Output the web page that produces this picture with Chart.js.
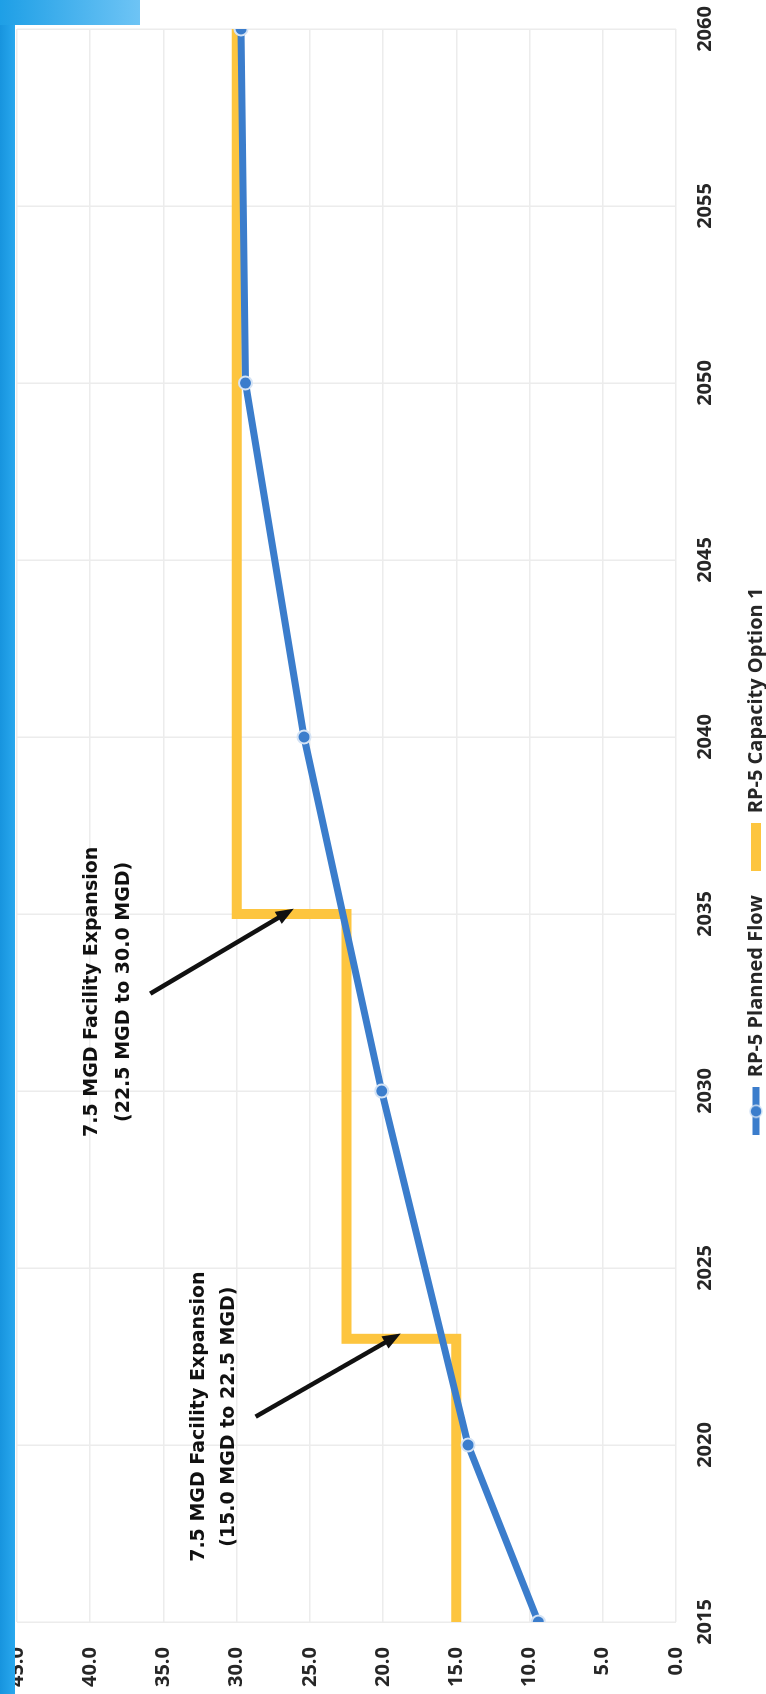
<!DOCTYPE html>
<html lang="en">
<head>
<meta charset="UTF-8" />
<meta name="viewport" content="width=device-width, initial-scale=1.0" />
<title>RP-5 Planned Flow and Capacity</title>
<script src="https://cdn.jsdelivr.net/npm/chart.js@4.4.1/dist/chart.umd.min.js"></script>
<style>
  html, body { margin: 0; padding: 0; width: 766px; height: 1694px; overflow: hidden; background: #fff; }
  /* the chart is drawn landscape and turned a quarter turn counter-clockwise */
  #turn { position: absolute; left: 0; top: 0; width: 1694px; height: 776px;
          transform-origin: 0 0; transform: translate(0px, 1694px) rotate(-90deg); }
  #turn canvas { display: block; }
  .strip { position: absolute; left: 0; top: 0; width: 15px; height: 1694px; z-index: 2;
           background: linear-gradient(to right, #1794de, #29a8ee); }
  .tab { position: absolute; left: 0; top: 0; width: 140px; height: 25px; z-index: 2;
         background: linear-gradient(to right, #1e9fe6, #6ec4f5); }
</style>
</head>
<body>
<div id="turn"><canvas id="chart1" width="1694" height="776"></canvas></div>
<div class="strip"></div>
<div class="tab"></div>
<script>
  const flowYears = [2015, 2020, 2030, 2040, 2050, 2060];
  const plannedFlow = [9.4, 14.2, 20.1, 25.4, 29.4, 29.7];

  const capacityYears = [2015, 2023, 2035, 2060];
  const capacityOption1 = [15.0, 22.5, 30.0, 30.0];

  const yearMin = 2015, yearMax = 2060, yearStep = 5;
  const mgdMin = 0, mgdMax = 45, mgdStep = 5;

  const seriesNames = ['RP-5 Planned Flow', 'RP-5 Capacity Option 1'];

  //callout text, placed in chart units (year, MGD)
  const calloutText = [
    ['7.5 MGD Facility Expansion', '(15.0 MGD to 22.5 MGD)'],
    ['7.5 MGD Facility Expansion', '(22.5 MGD to 30.0 MGD)']
  ];
  const calloutYear = [2020.8, 2032.8];
  const calloutMgd = [[32.6, 30.5], [39.9, 37.7]];
  const arrowTail = [[2020.8, 28.7], [2032.75, 35.9]];
  const arrowTip = [[2023.15, 18.8], [2035.15, 26.1]];

  const blue = '#3b7dcc';
  const yellow = '#fdc53f';
  const gridColor = '#ececec';

  Chart.defaults.font.family = "'Open Sans', sans-serif";
  Chart.defaults.font.weight = 'bold';
  Chart.defaults.font.size = 20;
  Chart.defaults.color = '#262626';

  //legend markers: a line, with a dot for the flow series
  function legendMark(color, dot){
    const c = document.createElement('canvas');
    c.width = 48; c.height = 14;
    const g = c.getContext('2d');
    g.fillStyle = color;
    g.fillRect(0, dot ? 3.5 : 2, 48, dot ? 7 : 10);
    if(dot){
      g.beginPath();
      g.arc(24, 7, 6, 0, Math.PI * 2);
      g.fill();
      g.strokeStyle = '#d4e3f5';
      g.lineWidth = 1.5;
      g.stroke();
    }
    return c;
  }
  const marks = [legendMark(blue, true), legendMark(yellow, false)];

  const callouts = {
    id: 'callouts',
    afterDatasetsDraw(chart){
      const { ctx, scales: { x, y } } = chart;
      ctx.save();
      ctx.font = "bold 19px 'DejaVu Sans'";
      ctx.fillStyle = '#111';
      ctx.strokeStyle = '#111';
      ctx.textAlign = 'center';
      ctx.textBaseline = 'middle';

      calloutText.forEach((lines, i) => {
        const cx = x.getPixelForValue(calloutYear[i]);
        lines.forEach((line, j) => {
          ctx.fillText(line, cx, y.getPixelForValue(calloutMgd[i][j]));
        });

        //arrow
        const x1 = x.getPixelForValue(arrowTail[i][0]);
        const y1 = y.getPixelForValue(arrowTail[i][1]);
        const x2 = x.getPixelForValue(arrowTip[i][0]);
        const y2 = y.getPixelForValue(arrowTip[i][1]);
        const ang = Math.atan2(y2 - y1, x2 - x1);
        const head = 18, half = 7;
        const cos = Math.cos(ang), sin = Math.sin(ang);
        ctx.lineWidth = 4.5;
        ctx.beginPath();
        ctx.moveTo(x1, y1);
        ctx.lineTo(x2 - head * 0.7 * cos, y2 - head * 0.7 * sin);
        ctx.stroke();
        ctx.beginPath();
        ctx.moveTo(x2, y2);
        ctx.lineTo(x2 - head * cos + half * sin, y2 - head * sin - half * cos);
        ctx.lineTo(x2 - head * cos - half * sin, y2 - head * sin + half * cos);
        ctx.closePath();
        ctx.fill();
      });
      ctx.restore();
    }
  };

  const data = {
    datasets: [{
      label: seriesNames[0],
      data: flowYears.map((yr, i) => ({ x: yr, y: plannedFlow[i] })),
      borderColor: blue,
      backgroundColor: blue,
      borderWidth: 7,
      pointRadius: 6.5,
      pointBorderWidth: 2,
      pointBackgroundColor: blue,
      pointBorderColor: '#d4e3f5'
    },
    {
      label: seriesNames[1],
      data: capacityYears.map((yr, i) => ({ x: yr, y: capacityOption1[i] })),
      borderColor: yellow,
      backgroundColor: yellow,
      borderWidth: 10,
      borderJoinStyle: 'miter',
      stepped: 'before',
      pointRadius: 0
    }]
  };

  const config = {
    type: 'line',
    data: data,
    options: {
      responsive: false,
      animation: false,
      layout: { padding: { top: 17, right: 29, left: 0, bottom: 0 } },
      plugins: {
        tooltip: { enabled: false },
        legend: {
          position: 'bottom',
          labels: {
            usePointStyle: true,
            pointStyleWidth: 48,
            padding: 24,
            color: '#262626',
            generateLabels(chart){
              const items = Chart.defaults.plugins.legend.labels.generateLabels(chart);
              items.forEach(item => { item.pointStyle = marks[item.datasetIndex]; });
              return items;
            }
          }
        }
      },
      scales: {
        x: {
          type: 'linear',
          min: yearMin,
          max: yearMax,
          ticks: { stepSize: yearStep, padding: 17, callback: v => String(v) },
          grid: { color: gridColor, lineWidth: 1.5, drawTicks: false },
          border: { display: false },
          afterFit(scale){
            scale.height = 46;
            scale.paddingLeft = 0;
            scale.paddingRight = 0;
          }
        },
        y: {
          min: mgdMin,
          max: mgdMax,
          ticks: { stepSize: mgdStep, padding: 25, callback: v => v.toFixed(1) },
          grid: { color: gridColor, lineWidth: 1.5, drawTicks: false },
          border: { display: false },
          afterFit(scale){
            scale.width = 72;
            scale.paddingTop = 0;
            scale.paddingBottom = 0;
          }
        }
      }
    },
    plugins: [callouts]
  };

  const myChart = new Chart(document.getElementById('chart1'), config);
</script>
</body>
</html>
